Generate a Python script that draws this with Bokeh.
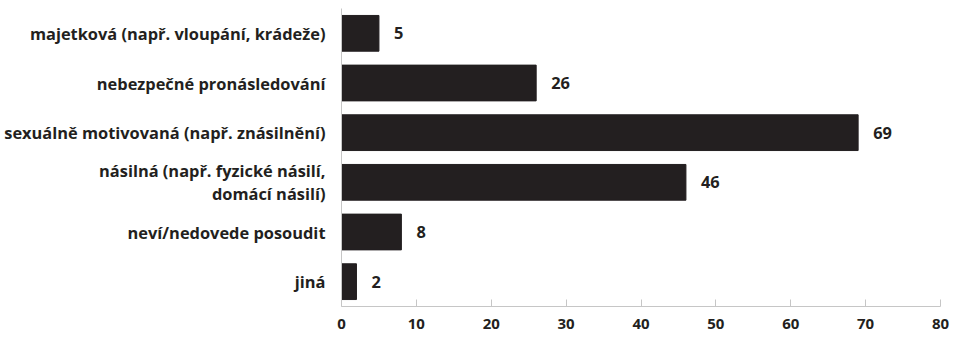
from bokeh.plotting import figure
from bokeh.models import Range1d, FactorRange, ColumnDataSource, FixedTicker
from bokeh.embed import file_html
from bokeh.resources import INLINE
from bokeh.core.properties import value

categories = [
    "majetková (např. vloupání, krádeže)",
    "nebezpečné pronásledování",
    "sexuálně motivovaná (např. znásilnění)",
    "násilná (např. fyzické násilí,\ndomácí násilí)",
    "neví/nedovede posoudit",
    "jiná",
]
values = [5, 26, 69, 46, 8, 2]
x_ticks = [0, 10, 20, 30, 40, 50, 60, 70, 80]

FONT = "Open Sans"
FSIZE = "16.4px"
DARK = "#231f20"
GREY = "#c6c6c6"

src = ColumnDataSource(dict(cat=categories, val=values, lab=[str(v) for v in values]))

p = figure(
    width=953, height=338,
    y_range=FactorRange(*categories[::-1]),
    x_range=Range1d(0, 80),
    output_backend="svg", toolbar_location=None,
    min_border_left=341, min_border_right=13, min_border_top=8, min_border_bottom=10,
)
p.frame_height = 298
p.frame_width = 599

p.hbar(y="cat", right="val", left=0, height=0.72, source=src, color=DARK)
p.text(x="val", y="cat", text="lab", source=src, x_offset=15,
       text_align="left", text_baseline="middle",
       text_font=value(FONT), text_font_style="bold", text_font_size=FSIZE, text_color=DARK)

p.outline_line_color = None
p.grid.visible = False

p.xaxis.ticker = FixedTicker(ticks=x_ticks)
p.xaxis.axis_line_color = GREY
p.xaxis.major_tick_line_color = GREY
p.xaxis.major_tick_in = 7
p.xaxis.major_tick_out = 0
p.xaxis.minor_tick_line_color = None
p.xaxis.major_label_standoff = 12
p.xaxis.major_label_text_font = FONT
p.xaxis.major_label_text_font_style = "bold"
p.xaxis.major_label_text_font_size = "15px"
p.xaxis.major_label_text_color = DARK

p.yaxis.axis_line_color = GREY
p.yaxis.major_tick_line_color = None
p.yaxis.minor_tick_line_color = None
p.yaxis.major_label_standoff = 10
p.yaxis.major_label_text_font = FONT
p.yaxis.major_label_text_font_style = "bold"
p.yaxis.major_label_text_font_size = FSIZE
p.yaxis.major_label_text_line_height = 1.0
p.yaxis.major_label_text_color = DARK

open("out.html", "w").write(file_html(p, INLINE))
